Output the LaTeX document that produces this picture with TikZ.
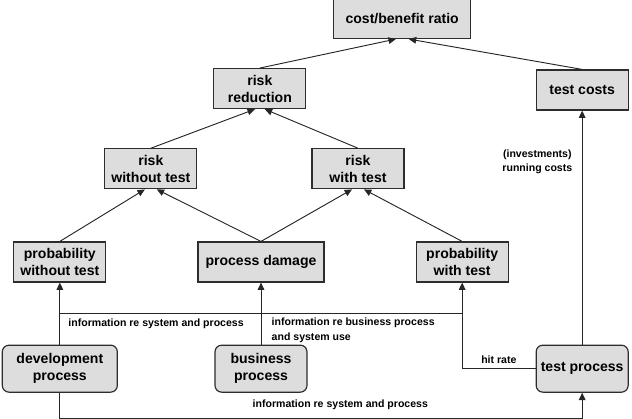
\documentclass[tikz,border=0pt]{standalone}
\usepackage{fontspec}
\setmainfont{Liberation Sans}
\usetikzlibrary{arrows.meta, positioning, calc}
\definecolor{boxgray}{RGB}{221,221,221}
\definecolor{edgegray}{RGB}{45,45,45}
\tikzstyle{block} = [rectangle, minimum width=27.6mm, minimum height=12mm, inner sep=1pt, align=center, draw=edgegray, line width=1pt, fill=boxgray, font=\fontsize{12}{14.5}\selectfont\bfseries]
\tikzstyle{proc} = [block, rounded corners=2mm, minimum height=14.1mm]
\tikzstyle{arrow} = [line width=0.8pt, draw=black!85, -{Triangle[length=2.2mm, width=2mm]}]
\tikzstyle{link} = [line width=0.8pt, draw=black!85]
\tikzstyle{lbl} = [font=\fontsize{9}{12}\selectfont\bfseries, inner sep=1pt]

\begin{document}
\begin{tikzpicture}[node distance=15mm]
        \useasboundingbox (-78.3mm,-47.1mm) rectangle (111.3mm,78.6mm);

        % Middle row
        \node (pdam) [block, minimum width=37.8mm] {process damage};
        \node (pwo) [block, left=27.3mm of pdam] {probability\\without test};
        \node (pw) [block, right=27.3mm of pdam] {probability\\with test};

        % Processes (bottom)
        \node (dev) [proc, minimum width=34.5mm, below=18.6mm of pwo] {development\\process};
        \node (bus) [proc, below=18.6mm of pdam] {business\\process};
        \node (tproc) [proc, right=68.4mm of bus] {test process};

        % Risks and costs (top)
        \node (rwo) [block, above=15.6mm of pwo, xshift=27.3mm] {risk\\without test};
        \node (rw) [block, right=34.2mm of rwo] {risk\\with test};
        \node (rred) [block, above=11.7mm of rwo, xshift=32.7mm] {risk\\reduction};
        \node (tcost) [block, above=70.2mm of tproc] {test costs};
        \node (cbr) [block, minimum width=41.1mm, minimum height=11.8mm, above=8.7mm of rred, xshift=42.7mm] {cost/benefit ratio};

        % Helper points
        \coordinate (infoL) at ($(pwo.south)!0.5!(dev.north)$);
        \coordinate (infoR) at (infoL -| pw);
        \coordinate (devlow) at ([yshift=-7.8mm]dev.south);
        \coordinate (tplow) at (devlow -| tproc);

        % Arrows (top)
        \draw [arrow] (rred.north) -- ([xshift=-1.9mm]cbr.south);
        \draw [arrow] (tcost.north) -- ([xshift=2.0mm]cbr.south);
        \draw [arrow] (rwo.north) -- ([xshift=-1.5mm]rred.south);
        \draw [arrow] (rw.north) -- ([xshift=1.5mm]rred.south);
        \draw [arrow] (pwo.north) -- ([xshift=-1.8mm]rwo.south);
        \draw [arrow] (pdam.north) -- ([xshift=1.8mm]rwo.south);
        \draw [arrow] (pdam.north) -- ([xshift=-1.8mm]rw.south);
        \draw [arrow] (pw.north) -- ([xshift=1.8mm]rw.south);

        % Arrows (bottom)
        \draw [arrow] (dev) -- (pwo);
        \draw [link] (infoL) -- (infoR) node[lbl, pos=0, anchor=north west, xshift=2.1mm, yshift=-1mm] {information re system and process};
        \draw [arrow] (bus) -- (pdam);
        \node (businfo) [lbl, anchor=north west, align=left] at ([xshift=2.8mm, yshift=-1mm]infoL -| bus) {information re business process\\and system use};
        \draw [arrow] (tproc.west) -- (tproc.west -| pw) node[lbl, midway, above=1.1mm] {hit rate} -- (pw.south);
        \draw [arrow] (tproc) -- (tcost) node[lbl, pos=0.78, left=2.5mm, align=center] {(investments)\\running costs};
        \draw [arrow] (dev.south) -- (devlow) -- (tplow) node[lbl, pos=0.537, above=2.1mm] {information re system and process} -- (tproc.south);

    \end{tikzpicture}
\end{document}
